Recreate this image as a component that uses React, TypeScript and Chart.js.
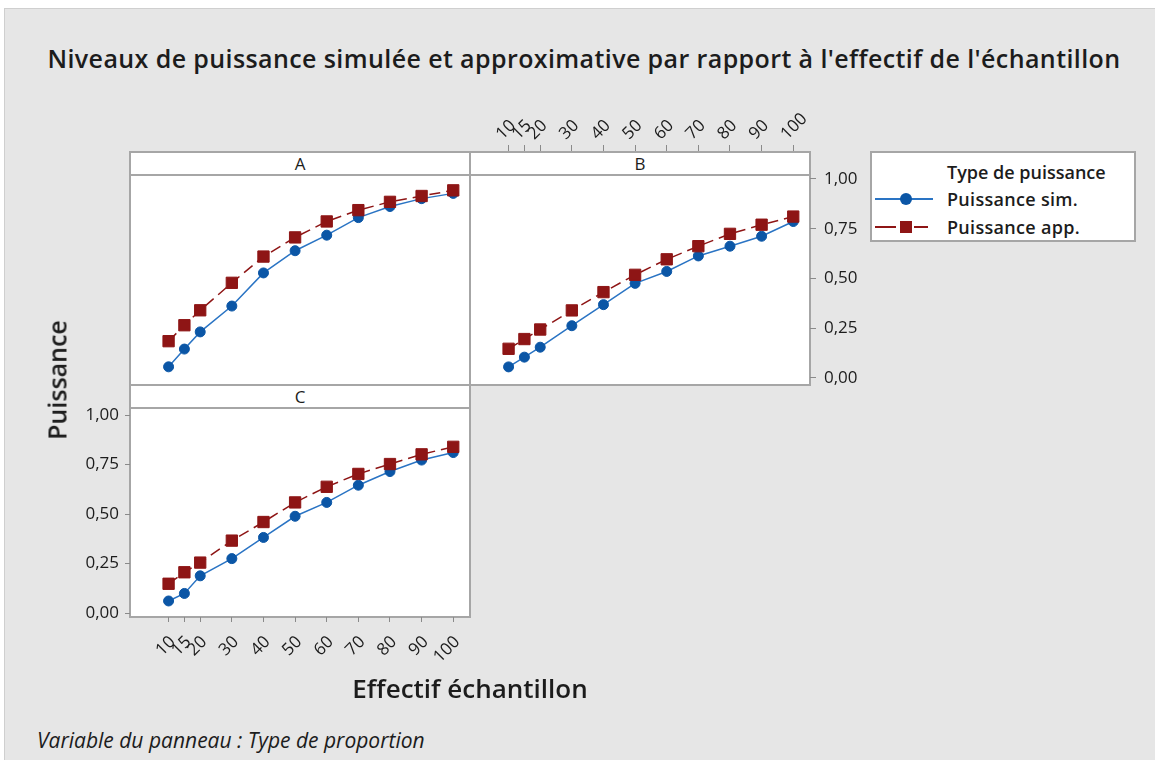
import React, { useEffect, useRef } from "react";
import { Chart, registerables } from "chart.js";

Chart.register(...registerables);

// ---------- data ----------
const SAMPLE_SIZES = [10, 15, 20, 30, 40, 50, 60, 70, 80, 90, 100];
const X_TICKS = [10, 15, 20, 30, 40, 50, 60, 70, 80, 90, 100];
const Y_TICKS = [0, 0.25, 0.5, 0.75, 1];

const A_SIM = [0.07, 0.158, 0.243, 0.371, 0.535, 0.645, 0.722, 0.809, 0.864, 0.903, 0.929];
const A_APP = [0.197, 0.276, 0.35, 0.486, 0.616, 0.711, 0.79, 0.846, 0.887, 0.916, 0.944];
const B_SIM = [0.055, 0.104, 0.154, 0.262, 0.368, 0.475, 0.535, 0.613, 0.662, 0.712, 0.786];
const B_APP = [0.146, 0.195, 0.243, 0.339, 0.431, 0.518, 0.596, 0.662, 0.724, 0.77, 0.811];
const C_SIM = [0.061, 0.099, 0.188, 0.275, 0.382, 0.489, 0.559, 0.646, 0.715, 0.773, 0.811];
const C_APP = [0.148, 0.206, 0.255, 0.366, 0.46, 0.559, 0.638, 0.703, 0.753, 0.802, 0.84];

const SERIES_NAMES = ["Puissance sim.", "Puissance app."];
const LEGEND_TITLE = "Type de puissance";
const TITLE = "Niveaux de puissance simulée et approximative par rapport à l'effectif de l'échantillon";
const X_TITLE = "Effectif échantillon";
const Y_TITLE = "Puissance";
const FOOTNOTE = "Variable du panneau : Type de proportion";

// ---------- styling ----------
const FONT = "'Open Sans', 'Noto Sans', sans-serif";
const X_MIN = -2.2;
const X_MAX = 105.3;
const Y_MIN = -0.02;
const Y_MAX = 1.02;
const SIM_COLOR = "#0b56a6";
const SIM_LINE = "#2a74c4";
const APP_COLOR = "#8e1515";
const FRAME = "#a6a6a6";
const TICK_COLOR = "#8a8a8a";
const TEXT = "#1c1c1c";

type AxisSpec = { pos: string; size: number; tickLength: number; padding: number; offset?: number } | null;

function makeX(spec: AxisSpec) {
  if (!spec) return { type: "linear", min: X_MIN, max: X_MAX, display: false };
  return {
    type: "linear",
    position: spec.pos,
    min: X_MIN,
    max: X_MAX,
    afterBuildTicks: (s: any) => {
      s.ticks = X_TICKS.map((v) => ({ value: v }));
    },
    afterFit: (s: any) => {
      s.height = spec.size;
    },
    grid: {
      drawOnChartArea: false,
      drawTicks: true,
      tickLength: spec.tickLength,
      color: TICK_COLOR,
      tickColor: TICK_COLOR,
      lineWidth: 1,
    },
    border: { display: false },
    ticks: {
      autoSkip: false,
      minRotation: 45,
      maxRotation: 45,
      padding: spec.padding,
      labelOffset: spec.offset || 0,
      color: TEXT,
      font: { family: FONT, size: 17 },
      callback: (v: any) => String(v),
    },
  };
}

function makeY(spec: AxisSpec) {
  if (!spec) return { type: "linear", min: Y_MIN, max: Y_MAX, display: false };
  return {
    type: "linear",
    position: spec.pos,
    min: Y_MIN,
    max: Y_MAX,
    afterBuildTicks: (s: any) => {
      s.ticks = Y_TICKS.map((v) => ({ value: v }));
    },
    afterFit: (s: any) => {
      s.width = spec.size;
    },
    grid: {
      drawOnChartArea: false,
      drawTicks: true,
      tickLength: spec.tickLength,
      color: TICK_COLOR,
      tickColor: TICK_COLOR,
      lineWidth: 1,
    },
    border: { display: false },
    ticks: {
      autoSkip: false,
      padding: spec.padding,
      color: TEXT,
      font: { family: FONT, size: 17 },
      callback: (v: any) => Number(v).toFixed(2).replace(".", ","),
    },
  };
}

type PanelProps = {
  sim: number[];
  app: number[];
  box: { x: number; y: number; w: number; h: number };
  pad: { left: number; top: number; right: number; bottom: number };
  xAxis: AxisSpec;
  yAxis: AxisSpec;
};

function PanelChart({ sim, app, box, pad, xAxis, yAxis }: PanelProps) {
  const ref = useRef<HTMLCanvasElement>(null);
  useEffect(() => {
    const chart = new Chart(ref.current as HTMLCanvasElement, {
      type: "line",
      data: {
        datasets: [
          {
            label: SERIES_NAMES[0],
            data: SAMPLE_SIZES.map((x, i) => ({ x, y: sim[i] })),
            borderColor: SIM_LINE,
            backgroundColor: SIM_COLOR,
            pointBackgroundColor: SIM_COLOR,
            pointBorderColor: SIM_COLOR,
            pointStyle: "circle",
            pointRadius: 5,
            pointBorderWidth: 1,
            borderWidth: 1.5,
            tension: 0,
            order: 2,
          },
          {
            label: SERIES_NAMES[1],
            data: SAMPLE_SIZES.map((x, i) => ({ x, y: app[i] })),
            borderColor: APP_COLOR,
            backgroundColor: APP_COLOR,
            pointBackgroundColor: APP_COLOR,
            pointBorderColor: APP_COLOR,
            pointStyle: "rect",
            pointRadius: 8,
            pointBorderWidth: 1,
            borderWidth: 1.5,
            borderDash: [11, 6],
            tension: 0,
            order: 1,
          },
        ],
      },
      options: {
        animation: false,
        responsive: false,
        maintainAspectRatio: false,
        events: [],
        layout: { padding: pad },
        plugins: { legend: { display: false }, tooltip: { enabled: false }, title: { display: false } },
        scales: { x: makeX(xAxis) as any, y: makeY(yAxis) as any },
      },
    });
    return () => chart.destroy();
  }, []);
  return (
    <canvas
      ref={ref}
      width={box.w}
      height={box.h}
      style={{ position: "absolute", left: box.x, top: box.y, width: box.w, height: box.h, zIndex: 1 }}
    />
  );
}

function Frame({ x, y, w, h }: { x: number; y: number; w: number; h: number }) {
  return (
    <div
      style={{
        position: "absolute",
        left: x,
        top: y,
        width: w,
        height: h,
        boxSizing: "border-box",
        border: `2px solid ${FRAME}`,
        background: "#ffffff",
        zIndex: 0,
      }}
    />
  );
}

function Strip({ x, y, w, h, label }: { x: number; y: number; w: number; h: number; label: string }) {
  return (
    <div
      style={{
        position: "absolute",
        left: x,
        top: y,
        width: w,
        height: h,
        boxSizing: "border-box",
        border: `2px solid ${FRAME}`,
        background: "#ffffff",
        zIndex: 2,
        display: "flex",
        alignItems: "center",
        justifyContent: "center",
        fontFamily: FONT,
        fontSize: 17,
        lineHeight: 1,
        color: TEXT,
      }}
    >
      {label}
    </div>
  );
}

function Text({
  x,
  y,
  children,
  size,
  weight = 400,
  italic = false,
  anchor = "center",
  rotate = 0,
  spacing = 0,
}: {
  x: number;
  y: number;
  children: any;
  size: number;
  weight?: number;
  italic?: boolean;
  anchor?: string;
  rotate?: number;
  spacing?: number;
}) {
  const tx = anchor === "center" ? "-50%" : "0";
  return (
    <div
      style={{
        position: "absolute",
        left: x,
        top: y,
        transform: `translate(${tx}, -50%) rotate(${rotate}deg)`,
        transformOrigin: anchor === "center" ? "50% 50%" : "0 50%",
        whiteSpace: "nowrap",
        fontFamily: FONT,
        fontSize: size,
        fontWeight: weight,
        fontStyle: italic ? "italic" : "normal",
        letterSpacing: spacing,
        lineHeight: 1,
        color: TEXT,
        zIndex: 3,
      }}
    >
      {children}
    </div>
  );
}

export default function App() {
  return (
    <div style={{ position: "absolute", left: 0, top: 0, width: 1155, height: 760, overflow: "hidden", background: "#ffffff" }}>
      <div
        style={{
          position: "absolute",
          left: 4,
          top: 8,
          width: 1151,
          height: 752,
          boxSizing: "border-box",
          background: "#e6e6e6",
          borderLeft: "1px solid #cfcfcf",
          borderTop: "1px solid #cfcfcf",
        }}
      />

      <Text x={584} y={58} size={25} weight={600} spacing={0.4}>
        {TITLE}
      </Text>

      {/* panel frames */}
      <Frame x={129} y={151} w={342} h={235} />
      <Frame x={469} y={151} w={342} h={235} />
      <Frame x={129} y={384} w={342} h={234} />

      <PanelChart
        sim={A_SIM}
        app={A_APP}
        box={{ x: 110, y: 160, w: 380, h: 240 }}
        pad={{ left: 20, top: 15, right: 20, bottom: 15 }}
        xAxis={null}
        yAxis={null}
      />
      <PanelChart
        sim={B_SIM}
        app={B_APP}
        box={{ x: 460, y: 90, w: 420, h: 310 }}
        pad={{ left: 10, top: 0, right: 0, bottom: 15 }}
        xAxis={{ pos: "top", size: 85, tickLength: 30, padding: 1, offset: 5 }}
        yAxis={{ pos: "right", size: 70, tickLength: 6, padding: 8 }}
      />
      <PanelChart
        sim={C_SIM}
        app={C_APP}
        box={{ x: 40, y: 395, w: 460, h: 290 }}
        pad={{ left: 0, top: 13, right: 30, bottom: 0 }}
        xAxis={{ pos: "bottom", size: 68, tickLength: 5, padding: 10, offset: 4 }}
        yAxis={{ pos: "left", size: 90, tickLength: 5, padding: 6 }}
      />

      {/* strips */}
      <Strip x={129} y={151} w={342} h={25} label="A" />
      <Strip x={469} y={151} w={342} h={25} label="B" />
      <Strip x={129} y={384} w={342} h={25} label="C" />

      {/* legend */}
      <div
        style={{
          position: "absolute",
          left: 870,
          top: 151,
          width: 266,
          height: 91,
          boxSizing: "border-box",
          border: `2px solid ${FRAME}`,
          background: "#ffffff",
          zIndex: 2,
        }}
      />
      <Text x={947} y={172} size={18} weight={600} anchor="left">
        {LEGEND_TITLE}
      </Text>
      <div style={{ position: "absolute", left: 875, top: 198, width: 58, height: 2, background: SIM_LINE, zIndex: 3 }} />
      <div
        style={{
          position: "absolute",
          left: 900,
          top: 193,
          width: 12,
          height: 12,
          borderRadius: "50%",
          background: SIM_COLOR,
          zIndex: 4,
        }}
      />
      <Text x={947} y={199} size={18} weight={600} spacing={0.3} anchor="left">
        {SERIES_NAMES[0]}
      </Text>
      <div style={{ position: "absolute", left: 875, top: 226, width: 21, height: 2, background: APP_COLOR, zIndex: 3 }} />
      <div style={{ position: "absolute", left: 914, top: 226, width: 14, height: 2, background: APP_COLOR, zIndex: 3 }} />
      <div style={{ position: "absolute", left: 900, top: 221, width: 12, height: 12, background: APP_COLOR, zIndex: 4 }} />
      <Text x={947} y={227} size={18} weight={600} spacing={0.3} anchor="left">
        {SERIES_NAMES[1]}
      </Text>

      {/* axis titles */}
      <Text x={57} y={380} size={25} weight={600} rotate={-90}>
        {Y_TITLE}
      </Text>
      <Text x={470} y={688} size={26} weight={600}>
        {X_TITLE}
      </Text>
      <Text x={37} y={740} size={21} italic anchor="left">
        {FOOTNOTE}
      </Text>
    </div>
  );
}
